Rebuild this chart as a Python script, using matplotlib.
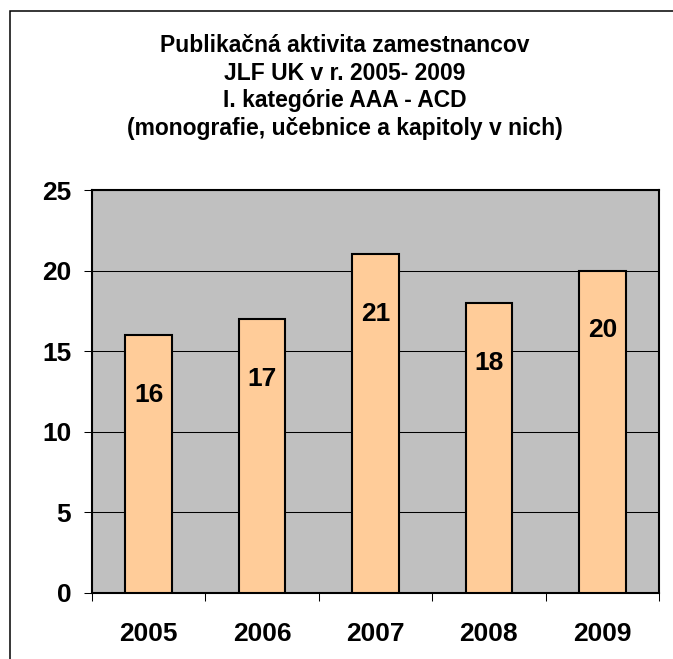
import matplotlib
matplotlib.use("Agg")
import matplotlib.pyplot as plt
from matplotlib.patches import Rectangle

# data
years = ["2005", "2006", "2007", "2008", "2009"]
counts = [16, 17, 21, 18, 20]
title_lines = [
    "Publikačná aktivita zamestnancov",
    "JLF UK v r. 2005- 2009",
    "I. kategórie AAA - ACD",
    "(monografie, učebnice a kapitoly v nich)",
]
yticks = [0, 5, 10, 15, 20, 25]

plt.rcParams['font.family'] = ['Liberation Sans', 'DejaVu Sans']
plt.rcParams['font.weight'] = 'bold'

W, H = 673, 659
fig = plt.figure(figsize=(W / 100, H / 100), dpi=100)
fig.patch.set_facecolor('white')

# outer chart frame (left/top visible, right/bottom cut by image)
fig.add_artist(Rectangle((10 / W, -0.05), 1.1, 1 - 11 / H + 0.05,
                         transform=fig.transFigure, fill=False,
                         edgecolor='black', linewidth=1.1))

ax = fig.add_axes([92 / W, 1 - 593 / H, (659 - 92) / W, (593 - 190) / H])
ax.set_facecolor('#C0C0C0')

x = range(len(years))
bars = ax.bar(x, counts, width=0.41, color='#FFCC99', edgecolor='black',
              linewidth=1.5, zorder=3)

for xi, v in zip(x, counts):
    ax.annotate(str(v), (xi, v), xytext=(0, -43), textcoords='offset points',
                ha='center', va='center', fontsize=19, fontweight='bold',
                zorder=4)

ax.set_xlim(-0.5, len(years) - 0.5)
ax.set_ylim(0, 25)
ax.set_yticks(yticks)
ax.yaxis.grid(True, color='black', linewidth=0.75, zorder=1)
ax.set_axisbelow(True)

ax.set_xticks(list(x))
ax.set_xticklabels(years)
ax.set_xticks([i - 0.5 for i in range(len(years) + 1)], minor=True)
ax.tick_params(axis='x', which='major', length=0, pad=21, labelsize=19)
ax.tick_params(axis='x', which='minor', length=6, width=0.75, direction='out')
ax.tick_params(axis='y', length=6, width=0.75, pad=9, labelsize=19)

for s in ax.spines.values():
    s.set_linewidth(1.5)
    s.set_color('black')

for line, yp in zip(title_lines, [45, 73, 101, 128]):
    fig.text(345 / W, 1 - yp / H, line, ha='center', va='center',
             fontsize=16.5, fontweight='bold')

fig.savefig('out.png', dpi=100)
